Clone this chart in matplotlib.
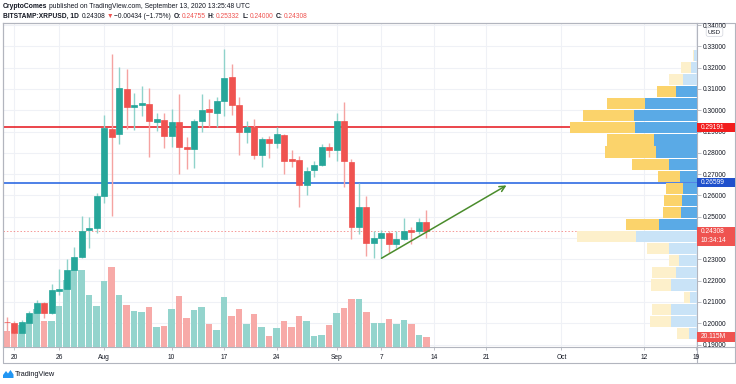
import numpy as np
import pandas as pd
import matplotlib
matplotlib.use('Agg')
import matplotlib.pyplot as plt
import matplotlib.dates as mdates
import matplotlib.transforms as mtransforms
from matplotlib.patches import Rectangle, Polygon
from matplotlib.lines import Line2D
from matplotlib.ticker import FormatStrFormatter

plt.rcParams['font.family'] = ['Liberation Sans', 'DejaVu Sans']

# ---------------- data ----------------
dates = pd.date_range('2020-07-19', '2020-09-13', freq='D')
opens = [0.2005, 0.2002, 0.1953, 0.2002, 0.2046, 0.2093, 0.2046, 0.2153, 0.2159, 0.2250,
         0.2312, 0.2438, 0.2448, 0.2599, 0.2910, 0.2887, 0.3100, 0.3014, 0.3024, 0.3029,
         0.2946, 0.2954, 0.2880, 0.2946, 0.2829, 0.2819, 0.2949, 0.3004, 0.2985, 0.3043,
         0.3157, 0.3024, 0.2896, 0.2920, 0.2790, 0.2863, 0.2847, 0.2884, 0.2770, 0.2766,
         0.2649, 0.2719, 0.2741, 0.2829, 0.2813, 0.2951, 0.2758, 0.2450, 0.2544, 0.2375,
         0.2401, 0.2425, 0.2370, 0.2394, 0.2438, 0.2434, 0.24755]
highs = [0.2030, 0.2010, 0.2015, 0.2059, 0.2110, 0.2098, 0.2183, 0.2253, 0.2301, 0.2356,
         0.2503, 0.2500, 0.2610, 0.2979, 0.3264, 0.3201, 0.3192, 0.3082, 0.3114, 0.3103,
         0.2988, 0.2985, 0.3006, 0.3076, 0.2873, 0.2959, 0.3075, 0.3051, 0.3060, 0.3286,
         0.3217, 0.3061, 0.2949, 0.2959, 0.2876, 0.2879, 0.2920, 0.2887, 0.2813, 0.2785,
         0.2735, 0.2763, 0.2841, 0.2847, 0.2988, 0.3040, 0.2770, 0.2660, 0.2597, 0.2433,
         0.2438, 0.2433, 0.2434, 0.2495, 0.2453, 0.2493, 0.25332]
lows = [0.1965, 0.1924, 0.1940, 0.1965, 0.2023, 0.2024, 0.2042, 0.2132, 0.2104, 0.2179,
        0.2305, 0.2352, 0.2425, 0.2563, 0.2503, 0.2841, 0.2910, 0.2907, 0.2973, 0.2782,
        0.2902, 0.2821, 0.2829, 0.2700, 0.2722, 0.2727, 0.2899, 0.2920, 0.2920, 0.2973,
        0.2977, 0.2790, 0.2845, 0.2771, 0.2735, 0.2774, 0.2821, 0.2700, 0.2735, 0.2547,
        0.2602, 0.2688, 0.2738, 0.2779, 0.2763, 0.2638, 0.2394, 0.2419, 0.2316, 0.2305,
        0.2305, 0.2328, 0.2352, 0.2391, 0.2372, 0.2417, 0.24000]
closes = [0.2004, 0.1953, 0.2007, 0.2046, 0.2093, 0.2046, 0.2156, 0.2159, 0.2250, 0.2309,
          0.2434, 0.2448, 0.2599, 0.2915, 0.2876, 0.3103, 0.3014, 0.3024, 0.3032, 0.2949,
          0.2957, 0.2879, 0.2946, 0.2829, 0.2819, 0.2949, 0.3001, 0.2990, 0.3043, 0.3153,
          0.3024, 0.2896, 0.2923, 0.2790, 0.2863, 0.2847, 0.2887, 0.2763, 0.2763, 0.2649,
          0.2716, 0.2741, 0.2829, 0.2813, 0.2951, 0.2762, 0.2453, 0.2547, 0.2375, 0.2401,
          0.2425, 0.2370, 0.2394, 0.2434, 0.2430, 0.2476, 0.24308]
volumes_m = [31.4, 26.1, 44.2, 60.3, 76.4, 52.9, 52.9, 81.6, 134.7, 154.0,
             154.0, 105.1, 81.6, 133.3, 160.8, 105.1, 84.4, 73.0, 71.0, 80.4,
             39.4, 41.4, 76.4, 101.7, 57.5, 73.6, 81.0, 45.4, 34.2, 99.7,
             62.9, 77.0, 46.8, 66.3, 39.4, 22.7, 37.4, 52.3, 40.2, 62.9,
             52.9, 21.3, 24.1, 43.4, 68.3, 78.4, 97.1, 97.1, 69.5, 47.4,
             48.8, 56.3, 45.4, 54.9, 45.4, 23.3, 20.115]

# volume profile rows, bottom to top (24 rows over the visible high-low range)
vp_up = [8.3, 25.7, 25.7, 6.7, 26.3, 20.7, 18.0, 28.0, 60.7, 38.3, 15.7, 15.3,
         14.0, 17.3, 28.3, 40.7, 43.3, 62.3, 63.3, 52.0, 21.3, 14.0, 6.3, 3.0]
vp_down = [11.3, 21.7, 19.0, 6.7, 20.0, 24.7, 10.3, 21.7, 59.0, 32.3, 18.3, 17.7,
           16.7, 21.7, 36.7, 51.0, 47.0, 64.3, 50.7, 38.0, 19.0, 14.3, 10.0, 0.7]
vp_value_area = [False] * 9 + [True] * 12 + [False] * 3

tick_dates = ['2020-07-20', '2020-07-26', '2020-08-01', '2020-08-10', '2020-08-17',
              '2020-08-24', '2020-09-01', '2020-09-07', '2020-09-14', '2020-09-21',
              '2020-10-01', '2020-10-12', '2020-10-19']
tick_labels = ['20', '26', 'Aug', '10', '17', '24', 'Sep', '7', '14', '21', 'Oct', '12', '19']
price_ticks = [0.19, 0.20, 0.21, 0.22, 0.23, 0.24, 0.25, 0.26, 0.27, 0.28, 0.29, 0.30,
               0.31, 0.32, 0.33, 0.34]

resistance = 0.29191
support = 0.26599
last_price = 0.24308
countdown = '10:34:14'
last_volume_label = '20.115M'
trend_start = ('2020-09-07', 0.2305)
trend_end = ('2020-09-23 16:00', 0.2647)

header1 = [('CryptoComes', '#131722', 'bold'),
           ('published on TradingView.com, September 13, 2020 13:25:48 UTC', '#131722', 'normal')]
header2 = [('BITSTAMP:XRPUSD, 1D', '#131722', 'bold'), ('0.24308', '#131722', 'normal'),
           ('▼', '#ef5350', 'normal'), ('−0.00434 (−1.75%)', '#131722', 'normal'),
           ('O:', '#131722', 'bold'), ('0.24755', '#ef5350', 'normal'),
           ('H:', '#131722', 'bold'), ('0.25332', '#ef5350', 'normal'),
           ('L:', '#131722', 'bold'), ('0.24000', '#ef5350', 'normal'),
           ('C:', '#131722', 'bold'), ('0.24308', '#ef5350', 'normal')]
header2_gaps = [2.5, 1.2, 1.2, 2.5, 0.8, 2.5, 0.8, 2.5, 0.8, 2.5, 0.8, 0]

# ---------------- figure ----------------
W, H = 736, 384
fig = plt.figure(figsize=(W / 100, H / 100), dpi=100)
fig.patch.set_facecolor('white')


def fx(p):
    return p / W


def fy(p):
    return 1 - p / H


rect = [fx(3), fy(347), fx(697) - fx(3), fy(23) - fy(347)]
bg = fig.add_axes(rect, zorder=0)
vol_ax = fig.add_axes(rect, sharex=bg, zorder=1)
ax = fig.add_axes(rect, sharex=bg, sharey=bg, zorder=2)
vp = fig.add_axes(rect, sharey=bg, zorder=3)

for a in (vol_ax, ax, vp):
    a.patch.set_visible(False)

x = mdates.date2num(dates)
O = np.array(opens)
C = np.array(closes)
up = C >= O
body_col = np.where(up, '#26a69a', '#ef5350')
wick_col = np.where(up, '#8fd3cb', '#f5a3a1')
vol_col = np.where(up, '#94d4cd', '#f7aaa8')

ymin, ymax = 0.18883, 0.34094
xmin = x[0] - 0.47
xmax = mdates.date2num(pd.Timestamp('2020-10-19')) + 0.07
ax.set_xlim(xmin, xmax)
ax.set_ylim(ymin, ymax)

# background grid
bg.set_facecolor('white')
bg.grid(True, color='#eff1f6', lw=0.8)
bg.tick_params(left=False, bottom=False, labelleft=False, labelbottom=False)
for s in bg.spines.values():
    s.set_visible(False)

# volume
vol_ax.bar(x, volumes_m, width=0.88, color=vol_col, edgecolor='none', zorder=1)
vol_ax.set_ylim(0, max(volumes_m) / 0.247)
vol_ax.axis('off')

# candles
ax.vlines(x, lows, highs, colors=wick_col, lw=1.0, zorder=3)
ax.bar(x, np.abs(C - O), bottom=np.minimum(O, C), width=0.8, color=body_col,
       edgecolor=body_col, lw=0.5, zorder=4)

# horizontal levels
ax.axhline(resistance, color='#e5121a', lw=1.1, zorder=2)
ax.axhline(support, color='#1d5ee0', lw=1.1, zorder=2)
ax.axhline(last_price, color='#ef5350', lw=0.7, ls=(0, (1.5, 2)), alpha=0.6, zorder=2)

# trend arrow
ts = mdates.date2num(pd.Timestamp(trend_start[0]))
te = mdates.date2num(pd.Timestamp(trend_end[0]))
ax.annotate('', xy=(te, trend_end[1]), xytext=(ts, trend_start[1]),
            arrowprops=dict(arrowstyle='->', color='#4a8c2c', lw=1.1, mutation_scale=10,
                            shrinkA=0, shrinkB=0), zorder=5)

# axes styling
ax.yaxis.tick_right()
ax.set_yticks(price_ticks)
ax.yaxis.set_major_formatter(FormatStrFormatter('%.5f'))
ax.set_xticks(mdates.date2num(pd.to_datetime(tick_dates)))
ax.set_xticklabels(tick_labels)
ax.tick_params(axis='y', labelsize=4.8, length=3, width=0.6, pad=1.2, color='#b2b5be',
               labelcolor='#131722')
ax.tick_params(axis='x', labelsize=4.8, length=2, width=0.6, pad=3.2, color='#b2b5be',
               labelcolor='#131722')
for s in ax.spines.values():
    s.set_color('#b2b5be')
    s.set_linewidth(0.8)

# volume profile (visible range)
edges = np.linspace(min(lows), max(highs), len(vp_up) + 1)
centers = (edges[:-1] + edges[1:]) / 2
step = edges[1] - edges[0]
upc = ['#5aaae6' if v else '#c9e3f7' for v in vp_value_area]
dnc = ['#fbd36b' if v else '#fdf0cb' for v in vp_value_area]
vp.barh(centers, vp_up, height=step * 0.92, left=0, color=upc, edgecolor='none')
vp.barh(centers, vp_down, height=step * 0.92, left=vp_up, color=dnc, edgecolor='none')
tot_max = max(u + d for u, d in zip(vp_up, vp_down))
vp.set_xlim(tot_max / 0.1824, 0)
vp.axis('off')

# boxed labels on the price scale
upp = (ymax - ymin) / 324.0
tr_p = mtransforms.blended_transform_factory(fig.transFigure, ax.transData)
box_spans = []


def price_box(ycen, text, color, trans, unit, extra_px=0.0, sub=None):
    h = 9.5
    ax.add_patch(Rectangle((fx(697), ycen - (h / 2 + extra_px) * unit), fx(735) - fx(697),
                           (h + extra_px) * unit, transform=trans, facecolor=color,
                           edgecolor='none', clip_on=False, zorder=10))
    ax.text(fx(700.5), ycen, text, transform=trans, color='white', fontsize=4.8,
            va='center', ha='left', zorder=11, clip_on=False)
    if sub:
        ax.text(fx(700.5), ycen - 9.5 * unit, sub, transform=trans, color='white',
                fontsize=4.8, va='center', ha='left', zorder=11, clip_on=False)


price_box(resistance, f'{resistance:.5f}', '#f21d1d', tr_p, upp)
price_box(support, f'{support:.5f}', '#1f50cc', tr_p, upp)
price_box(last_price, f'{last_price:.5f}', '#ef5350', tr_p, upp, extra_px=9.5, sub=countdown)
vupp = (max(volumes_m) / 0.247) / 324.0
tr_v = mtransforms.blended_transform_factory(fig.transFigure, vol_ax.transData)
price_box(volumes_m[-1], last_volume_label, '#ef5350', tr_v, vupp)

# price-scale labels that sit fully under a boxed label are hidden (as on the reference)
fig.canvas.draw()
for tick in ax.yaxis.get_major_ticks():
    v = tick.get_loc()
    if abs(v - last_price) < 0.0045 and v < last_price:
        tick.label2.set_visible(False)

fig.text(fx(714.5), fy(32), 'USD', ha='center', va='center', fontsize=4.4, color='#131722',
         zorder=20, bbox=dict(boxstyle='round,pad=0.3', fc='white', ec='#d1d4dc', lw=0.5))

# outer frame
fig.add_artist(Line2D([fx(3), fx(735), fx(735), fx(3), fx(3)],
                      [fy(23), fy(23), fy(363), fy(363), fy(23)],
                      transform=fig.transFigure, color='#b2b5be', lw=0.8))
fig.add_artist(Line2D([fx(697), fx(697)], [fy(347), fy(363)], transform=fig.transFigure,
                      color='#b2b5be', lw=0.8))
fig.add_artist(Line2D([fx(697), fx(735)], [fy(347), fy(347)], transform=fig.transFigure,
                      color='#b2b5be', lw=0.8))

# header
renderer = fig.canvas.get_renderer()


def seq_text(x0, y0, parts, gaps, size):
    xp = x0
    for (s, col, wt), g in zip(parts, gaps):
        t = fig.text(fx(xp), fy(y0), s, color=col, fontsize=size, fontweight=wt,
                     ha='left', va='center')
        bb = t.get_window_extent(renderer=renderer)
        xp = bb.x1 + g


seq_text(3, 6.5, header1, [1.8, 0], 4.9)
seq_text(3, 16, header2, header2_gaps, 4.75)

# TradingView logo
fig.add_artist(Polygon([(fx(3), fy(378)), (fx(3), fy(375)), (fx(6), fy(371)), (fx(8), fy(373.5)),
                        (fx(10.5), fy(370)), (fx(13.5), fy(374.5)), (fx(13.5), fy(378))],
                       closed=True, transform=fig.transFigure, facecolor='#2196f3',
                       edgecolor='none'))
fig.text(fx(15), fy(374), 'TradingView', fontsize=5.3, color='#131722', ha='left', va='center')

fig.savefig('out.png', dpi=100, facecolor='white')
